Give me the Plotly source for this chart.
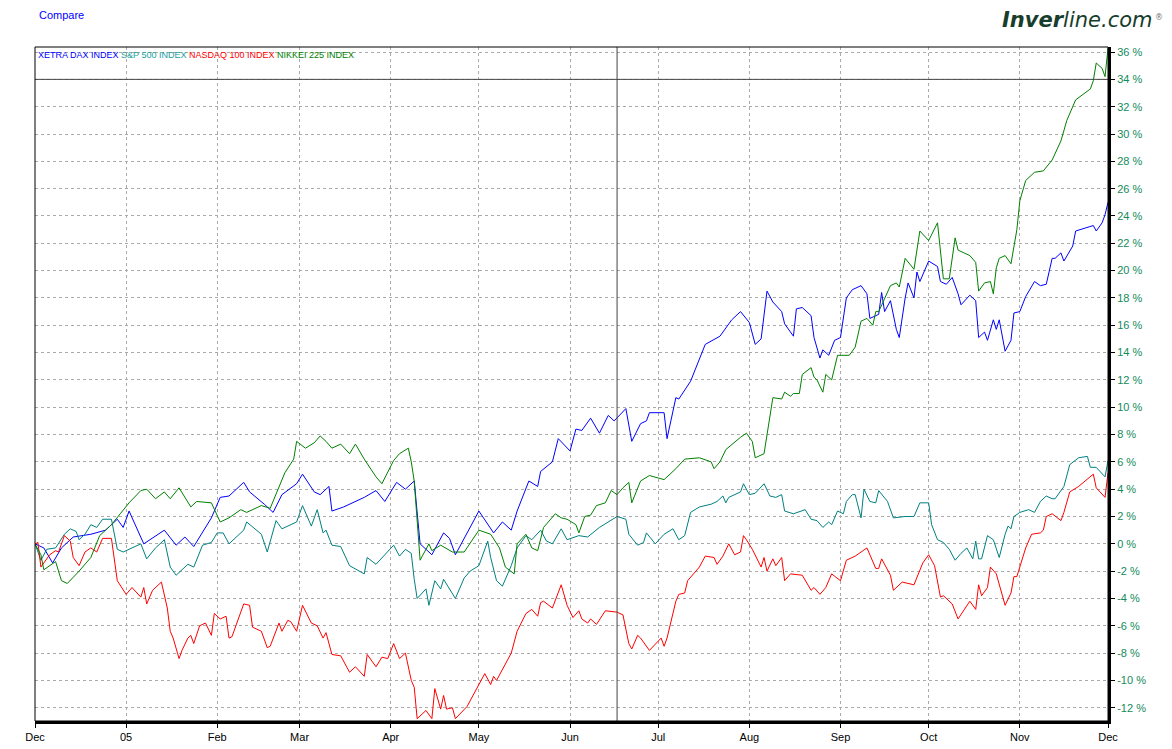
import pandas as pd
import plotly.graph_objects as go

# days since 1 Dec 2004, cumulative % change
start = pd.Timestamp("2004-12-01")

dax_days = [0, 3, 6, 9, 13, 19, 24, 28, 30, 32, 37, 44, 48, 51, 54, 60, 63, 66, 71, 73, 78, 81, 84, 89, 91, 95, 97, 100, 101, 105,
            112, 116, 119, 123, 126, 129, 131, 135, 139, 141, 143, 151, 156, 159, 162, 164, 168, 171, 172, 176, 178, 182, 184, 186,
            189, 192, 195, 197, 201, 203, 206, 208, 209, 214, 215, 218, 219, 223, 228, 233, 237, 240, 243, 245, 247, 249, 251, 254,
            255, 258, 259, 261, 264, 265, 267, 268, 270, 272, 274, 276, 278, 281, 283, 284, 287, 288, 289, 291, 293, 294, 296, 297,
            299, 300, 301, 304, 307, 308, 310, 312, 314, 315, 318, 320, 321, 323, 324, 326, 327, 328, 330, 332, 333, 335, 337, 340,
            342, 344, 346, 347, 349, 350, 353, 354, 360, 361, 363, 364, 365]
dax_vals = [0, -0.3, -1.4, -0.3, 0.5, 0.7, 1.0, 1.8, 1.2, 2.4, 0, 1.0, -0.1, 0.5, -0.2, 1.9, 3.4, 3.5, 4.5, 3.8, 2.9, 2.3, 3.6, 4.4, 5.1, 3.8, 3.6, 4.2, 2.4, 2.7,
            3.4, 3.9, 3.1, 4.5, 4.0, 4.6, 0, -0.8, 0.8, 0.4, -0.8, 2.4, 0.8, 1.6, 1.0, 2.4, 4.6, 4.2, 5.3, 6.0, 7.7, 6.8, 8.4, 8.3,
            9.2, 8.1, 9.4, 9.0, 9.9, 7.5, 8.8, 9.0, 9.6, 9.6, 7.7, 10.7, 10.6, 11.9, 14.6, 15.2, 16.4, 17.0, 16.2, 14.6, 15.0, 18.5, 17.7, 17.0,
            16.1, 15.2, 17.2, 17.3, 16.7, 15.1, 13.6, 14.2, 13.8, 14.9, 15.1, 18.0, 18.6, 18.9, 18.3, 16.5, 16.8, 18.4, 17.0, 17.8, 15.7, 15.1, 18.0, 19.1,
            18.0, 19.9, 19.2, 20.7, 20.3, 19.2, 19.0, 19.5, 18.3, 17.5, 18.2, 17.8, 15.1, 15.5, 14.9, 16.4, 15.7, 16.4, 14.1, 14.9, 16.9, 17.0, 18.1, 19.2,
            18.9, 19.0, 20.9, 20.9, 21.3, 20.7, 21.8, 22.9, 23.3, 22.9, 23.5, 24.1, 25.0]

spx_days = [0, 2, 4, 7, 10, 12, 14, 15, 17, 19, 21, 23, 26, 28, 30, 36, 38, 41, 44, 46, 48, 52, 54, 57, 60, 62, 64, 66, 71, 72,
            77, 79, 82, 84, 89, 91, 94, 96, 98, 99, 101, 104, 107, 112, 113, 116, 122, 124, 126, 128, 129, 130, 133, 134, 136, 138,
            139, 141, 143, 146, 148, 151, 154, 155, 157, 159, 162, 164, 167, 169, 172, 174, 176, 179, 181, 185, 188, 192, 196, 198,
            201, 202, 205, 207, 208, 211, 214, 217, 219, 221, 223, 226, 230, 232, 234, 235, 236, 240, 241, 243, 245, 248, 250, 252,
            254, 255, 258, 262, 264, 266, 268, 270, 271, 273, 275, 276, 278, 279, 281, 282, 284, 286, 287, 290, 292, 296, 299, 301,
            304, 305, 307, 309, 311, 313, 315, 317, 319, 320, 321, 322, 324, 326, 328, 330, 331, 332, 333, 335, 338, 340, 342, 344,
            346, 347, 350, 352, 355, 358, 359, 361, 364, 365]
spx_vals = [0, -1.2, -0.4, -0.3, 0.7, 1.1, 0.9, 0.3, 0.7, 1.4, 1.2, 1.8, 1.8, -0.4, -0.6, 0, -1.1, -0.3, 0.3, -1.7, -2.3, -1.5, -1.7, -0.1, 0.1, 0.8, 0.8, 0, 1.0, 1.6,
            0.7, -0.6, 1.7, 1.1, 1.6, 2.8, 1.3, 2.5, 0.8, 1.0, -0.1, -0.2, -1.6, -2.2, -1.0, -1.5, -0.1, -0.9, -0.4, -0.7, -2.6, -4.0, -3.3, -4.5, -2.7, -3.3,
            -2.6, -3.3, -4.0, -2.5, -2.0, -1.6, 0.2, -1.0, -2.7, -3.1, -1.6, -0.3, 0.6, 0.3, 1.0, 0.2, 0, 1.1, 0.3, 0.6, 0.5, 1.2, 1.7, 2.0,
            1.8, 0.7, -0.1, 0.1, 0.8, 0, 0.7, 1.1, 0.3, 0.6, 2.3, 2.7, 2.9, 3.1, 3.5, 3.0, 3.4, 3.8, 4.4, 3.6, 3.7, 4.4, 3.5, 3.4,
            3.6, 2.4, 2.2, 2.5, 1.8, 1.7, 1.2, 1.6, 1.4, 2.4, 2.2, 3.1, 3.6, 3.6, 1.9, 4.0, 3.1, 3.0, 3.9, 3.1, 1.9, 2.0, 2.0, 3.0,
            3.0, 1.4, 0.3, 0.1, -0.4, -1.2, -0.7, -0.3, -1.1, 0.2, -1.1, -1.1, 0.6, 0.3, -1.0, 0.7, 1.3, 1.1, 2.0, 2.3, 2.5, 2.3, 3.1, 3.5,
            3.3, 3.3, 4.2, 5.8, 6.3, 6.4, 5.6, 5.6, 4.9, 6.1]

ndx_days = [0, 1, 2, 5, 7, 8, 10, 12, 13, 15, 17, 19, 21, 23, 26, 28, 31, 33, 36, 37, 38, 40, 43, 45, 46, 47, 49, 50, 52, 53,
            54, 56, 58, 60, 61, 63, 65, 66, 67, 71, 73, 74, 77, 79, 80, 83, 84, 86, 87, 89, 91, 94, 96, 98, 99, 101, 104, 107, 109, 112,
            113, 116, 118, 120, 122, 124, 126, 128, 129, 130, 133, 135, 136, 138, 139, 140, 142, 143, 147, 153, 155, 156, 157, 162, 164,
            167, 169, 171, 172, 173, 176, 179, 181, 183, 185, 186, 188, 189, 191, 194, 198, 200, 202, 203, 205, 206, 209, 213, 214, 215,
            218, 219, 221, 222, 226, 228, 231, 232, 234, 236, 238, 240, 241, 242, 244, 245, 247, 248, 249, 251, 252, 254, 255, 257, 261,
            264, 265, 267, 269, 271, 274, 276, 279, 283, 286, 287, 288, 291, 292, 295, 299, 302, 304, 306, 308, 309, 312, 314, 316, 318,
            320, 321, 322, 324, 325, 327, 330, 332, 333, 334, 337, 339, 342, 343, 344, 346, 349, 350, 352, 354, 355, 360, 361, 364, 365]
ndx_vals = [0, 0.1, -1.7, -0.8, -0.5, -0.6, 0.6, 0.2, -1.0, -1.6, -0.6, -0.3, -0.6, 0.4, 0.4, -2.7, -3.7, -3.2, -3.9, -3.2, -4.4, -3.4, -2.8, -4.7, -6.4, -6.9, -8.4, -7.8, -6.9, -6.7,
            -7.3, -6.0, -5.8, -6.7, -5.1, -5.5, -5.3, -6.9, -6.8, -4.4, -4.5, -6.1, -6.4, -7.6, -7.5, -5.8, -6.4, -5.6, -5.7, -6.4, -4.5, -5.8, -6.0, -6.9, -6.5, -8.1, -8.2, -9.4, -9.0, -9.7,
            -8.1, -9.0, -8.3, -8.4, -7.3, -8.4, -8.0, -10.0, -10.5, -12.8, -12.2, -12.8, -10.6, -12.1, -11.1, -12.1, -12.0, -12.8, -11.9, -9.5, -10.3, -9.7, -10.0, -8.0, -6.4,
            -5.1, -4.8, -5.3, -4.3, -4.2, -4.7, -3.0, -4.5, -5.4, -4.9, -5.5, -5.8, -5.5, -5.9, -4.9, -5.0, -5.2, -7.3, -7.7, -6.7, -6.9, -7.8, -6.9, -7.5, -6.9,
            -4.2, -3.7, -3.6, -2.7, -1.7, -0.9, -1.0, -1.5, -0.9, 0, -0.8, -0.6, 0.6, 0.3, -0.4, -0.8, -1.7, -1.0, -2.0, -1.1, -1.6, -1.0, -2.7, -2.2, -2.3,
            -3.4, -3.2, -3.7, -3.2, -2.2, -2.7, -1.2, -0.9, -0.3, -1.8, -1.8, -1.1, -2.3, -3.4, -2.8, -3.0, -1.4, -0.8, -1.6, -3.9, -3.8, -4.4, -5.5, -4.8, -4.2,
            -4.8, -3.0, -3.8, -3.2, -1.7, -2.2, -4.5, -3.6, -2.4, -2.4, -0.3, 0.7, 0.8, 1.0, 2.0, 2.2, 1.7, 2.3, 3.8, 4.1, 4.2, 5.1, 4.1, 3.4, 5.2]

nky_days = [0, 2, 3, 7, 9, 11, 15, 19, 22, 26, 29, 32, 36, 38, 41, 44, 46, 49, 53, 55, 60, 63, 66, 70, 72, 77, 80, 83, 85, 88,
            89, 92, 95, 97, 99, 101, 104, 107, 109, 112, 116, 118, 121, 122, 124, 127, 128, 129, 131, 134, 135, 138, 142, 146, 151,
            155, 158, 160, 163, 164, 167, 169, 171, 173, 177, 179, 181, 184, 185, 187, 189, 191, 194, 196, 198, 200, 202, 203, 206,
            209, 214, 218, 221, 226, 230, 231, 233, 235, 240, 242, 244, 245, 248, 250, 251, 254, 255, 257, 258, 260, 261, 264, 265,
            266, 268, 269, 271, 273, 277, 279, 281, 283, 285, 286, 287, 291, 293, 294, 296, 299, 300, 301, 304, 307, 309, 311, 313,
            314, 318, 320, 321, 323, 325, 326, 327, 328, 330, 332, 334, 335, 337, 340, 343, 346, 349, 351, 354, 357, 359, 360, 361,
            363, 364, 365]
nky_vals = [0, -0.8, -1.9, -1.3, -2.7, -2.9, -2.0, -1.0, 0.6, 1.4, 2.2, 3.0, 3.9, 4.0, 3.3, 3.8, 3.3, 4.1, 2.7, 3.1, 3.0, 1.6, 1.9, 2.5, 2.3, 2.8, 2.6, 4.2, 5.2, 6.2,
            7.5, 7.0, 7.4, 7.9, 7.5, 7.0, 7.3, 6.6, 7.3, 6.2, 4.9, 4.4, 5.6, 6.1, 6.6, 7.0, 6.0, 4.6, -1.2, 0, -0.5, -0.1, -0.6, -0.6, 1.0,
            0.7, -0.3, -1.7, -2.2, 0, 0.7, -0.3, -0.5, 1.2, 2.2, 1.9, 1.8, 1.4, 0.8, 2.0, 2.1, 2.8, 3.0, 3.9, 3.6, 4.1, 4.5, 3.0, 4.6,
            5.0, 4.7, 5.5, 6.2, 6.3, 6.0, 5.5, 6.0, 6.9, 7.8, 8.1, 7.5, 6.3, 6.6, 9.5, 10.7, 10.6, 11.1, 10.8, 11.0, 11.0, 12.4, 12.9, 12.2,
            12.0, 11.1, 12.4, 12.0, 13.8, 13.8, 14.4, 16.3, 16.5, 16.0, 17.0, 17.0, 18.9, 19.1, 18.8, 20.9, 20.1, 21.6, 22.9, 22.2, 23.5, 19.4, 19.4, 22.4,
            21.5, 21.1, 20.6, 18.5, 19.1, 19.2, 18.3, 20.2, 20.9, 21.1, 20.5, 23.0, 25.1, 26.6, 27.2, 27.3, 28.1, 29.5, 31.0, 32.5, 33.0, 33.3, 33.9, 35.2,
            34.8, 34.2, 36.3]

series = [
    ("XETRA DAX INDEX", dax_days, dax_vals, "#0000ff"),
    ("S&P 500 INDEX", spx_days, spx_vals, "#008080"),
    ("NASDAQ 100 INDEX", ndx_days, ndx_vals, "#ff0000"),
    ("NIKKEI 225 INDEX", nky_days, nky_vals, "#008000"),
]

tick_dates = pd.date_range("2004-12-01", "2005-12-01", freq="MS")
tick_text = ["Dec", "05", "Feb", "Mar", "Apr", "May", "Jun", "Jul", "Aug", "Sep", "Oct", "Nov", "Dec"]
y_ticks = list(range(-12, 37, 2))
y_labels = [f"{v} %" for v in y_ticks]

fig = go.Figure()
for name, days, vals, col in series:
    x = start + pd.to_timedelta(days, unit="D")
    fig.add_trace(go.Scatter(x=x, y=vals, mode="lines", name=name,
                             line=dict(color=col, width=1)))

# crosshair
cross_x = start + pd.Timedelta(days=198)
fig.add_shape(type="line", xref="x", yref="paper", x0=cross_x, x1=cross_x, y0=0, y1=1,
              line=dict(color="#444444", width=1))
fig.add_shape(type="line", xref="paper", yref="y", x0=0, x1=1, y0=34, y1=34,
              line=dict(color="#444444", width=1))

fig.update_xaxes(range=[start, pd.Timestamp("2005-12-01")], tickvals=tick_dates, ticktext=tick_text,
                 showgrid=True, gridcolor="#aaaaaa", griddash="dot", gridwidth=1,
                 showline=True, linecolor="black", linewidth=3,
                 ticks="outside", ticklen=4, tickcolor="black",
                 tickfont=dict(family="Liberation Sans", size=11, color="black"), zeroline=False)
fig.update_yaxes(range=[-12.97, 36.37], side="right", tickvals=y_ticks, ticktext=y_labels,
                 showgrid=True, gridcolor="#aaaaaa", griddash="dot", gridwidth=1,
                 showline=True, linecolor="black", linewidth=3,
                 ticks="outside", ticklen=4, tickcolor="black",
                 tickfont=dict(family="Liberation Sans", size=11, color="#138a5a"), zeroline=False)

fig.add_shape(type="rect", xref="paper", yref="paper", x0=0, x1=1, y0=0, y1=1,
              line=dict(color="black", width=1))

legend_html = ("<span style='color:#0000ff'>XETRA DAX INDEX</span> "
               "<span style='color:#20a0a0'>S&P 500 INDEX</span> "
               "<span style='color:#ff0000'>NASDAQ 100 INDEX</span> "
               "<span style='color:#008000'>NIKKEI 225 INDEX</span>")
fig.add_annotation(text=legend_html, xref="paper", yref="paper", x=0.001, y=0.999,
                   xanchor="left", yanchor="top", showarrow=False,
                   font=dict(family="Liberation Sans", size=9))
fig.add_annotation(text="Compare", xref="paper", yref="paper", x=0.002, y=1.047,
                   xanchor="left", yanchor="middle", showarrow=False,
                   font=dict(family="Liberation Sans", size=11, color="#0000ff"))
fig.add_annotation(text="<b><i>Inver</i></b><i>line.com</i>", xref="paper", yref="paper",
                   x=1.044, y=1.040, xanchor="right", yanchor="middle", showarrow=False,
                   font=dict(family="DejaVu Sans", size=21, color="#173d2c"))
fig.add_annotation(text="®", xref="paper", yref="paper", x=1.053, y=1.054,
                   xanchor="right", yanchor="top", showarrow=False,
                   font=dict(family="DejaVu Sans", size=8, color="#777777"))

fig.update_layout(width=1172, height=749, showlegend=False,
                  plot_bgcolor="white", paper_bgcolor="white",
                  margin=dict(l=27, r=72, t=39, b=36))

fig.write_html("out.html")
